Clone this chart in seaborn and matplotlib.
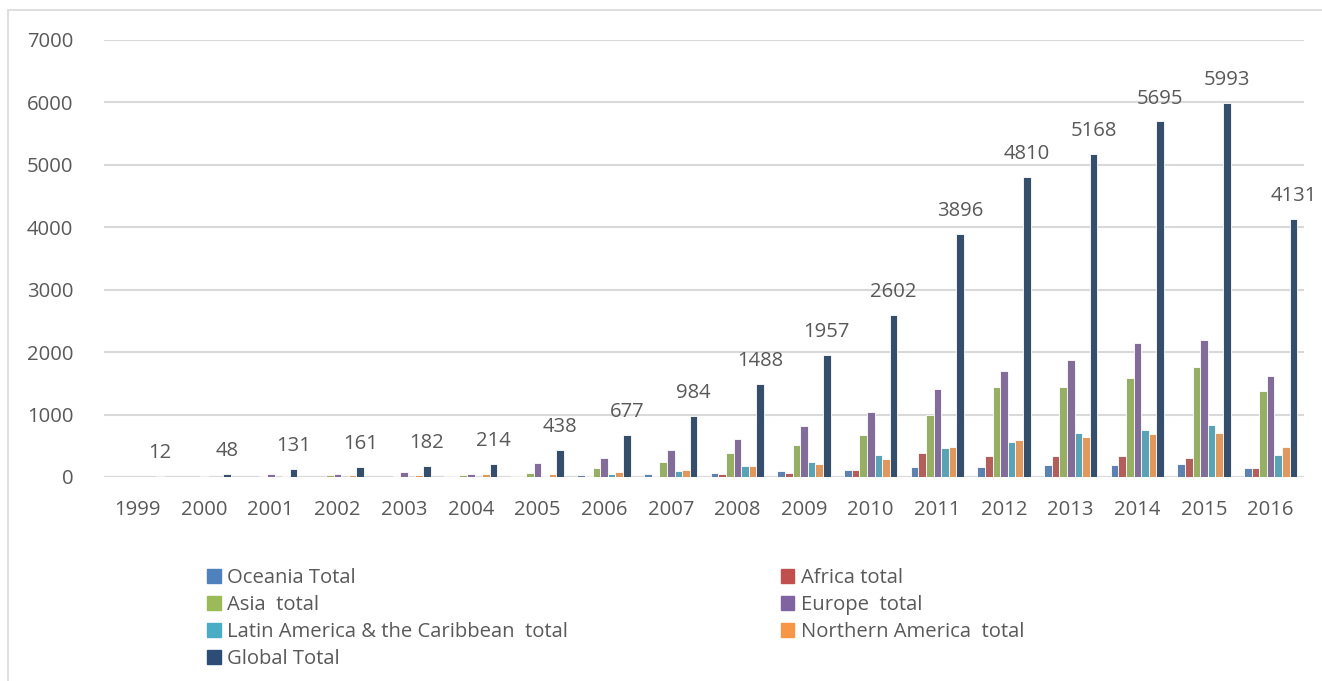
import pandas as pd
import matplotlib.pyplot as plt
import matplotlib.patches as mpatches
import seaborn as sns

# ─── Data ─────────────────────────────────────────────────────────────
YEARS = [str(y) for y in range(1999, 2017)]

oceania = [0, 3, 5, 5, 5, 10, 10, 27, 43, 70, 91, 113, 161, 167, 188, 188, 204, 140]
africa = [0, 3, 5, 5, 5, 10, 15, 21, 21, 54, 59, 108, 387, 333, 333, 333, 301, 145]
asia = [1, 5, 21, 27, 16, 37, 59, 145, 237, 387, 511, 667, 989, 1446, 1435, 1581, 1758, 1371]
europe = [5, 16, 53, 53, 75, 53, 222, 306, 435, 602, 817, 1048, 1409, 1704, 1866, 2151, 2188, 1624]
latin = [3, 3, 5, 5, 5, 5, 20, 54, 97, 172, 237, 349, 462, 554, 699, 753, 833, 349]
north_america = [3, 5, 21, 27, 27, 43, 40, 75, 113, 177, 210, 285, 473, 591, 634, 683, 699, 478]
global_total = [12, 48, 131, 161, 182, 214, 438, 677, 984, 1488, 1957, 2602, 3896, 4810, 5168, 5695, 5993, 4131]

SERIES = ["Oceania Total", "Africa total", "Asia  total", "Europe  total",
          "Latin America & the Caribbean  total", "Northern America  total", "Global Total"]
COLORS = ["#4F81BD", "#C0504D", "#9BBB59", "#8064A2", "#4BACC6", "#F79646", "#2C4D75"]

TEXT = "#595959"
GRID = "#D9D9D9"
FS = 14.6


def build_frame():
    values = [oceania, africa, asia, europe, latin, north_america, global_total]
    rows = []
    for name, vals in zip(SERIES, values):
        for yr, v in zip(YEARS, vals):
            rows.append({"year": yr, "series": name, "value": v})
    return pd.DataFrame(rows)


def main():
    sns.set_theme(style="white")
    plt.rcParams["font.family"] = ["Open Sans", "DejaVu Sans"]

    df = build_frame()
    fig = plt.figure(figsize=(13.22, 6.81), dpi=100)
    ax = fig.add_axes([0.0787, 0.2996, 0.9077, 0.6417])

    sns.barplot(data=df, x="year", y="value", hue="series", order=YEARS,
                hue_order=SERIES, palette=COLORS, width=0.8, ax=ax,
                edgecolor="white", linewidth=0.6, legend=False)

    ax.set_ylim(0, 7000)
    ax.set_xlim(-0.5, len(YEARS) - 0.5)
    ax.set_yticks(range(0, 7001, 1000))
    ax.yaxis.grid(True, color=GRID, linewidth=1.5)
    ax.set_axisbelow(True)
    for side in ["top", "right", "left", "bottom"]:
        ax.spines[side].set_visible(False)
    ax.axhline(0, color=GRID, linewidth=1.5, zorder=0.5)
    ax.set_xlabel("")
    ax.set_ylabel("")
    ax.tick_params(axis="y", length=0, pad=22, labelsize=FS, labelcolor=TEXT)
    ax.tick_params(axis="x", length=0, pad=16.5, labelsize=FS, labelcolor=TEXT)

    # value labels over the Global Total bars
    n = len(SERIES)
    bar_w = 0.8 / n
    offset = (n - 1) / 2 * bar_w
    for i, v in enumerate(global_total):
        ax.annotate(str(v), (i + offset, v), xytext=(0, 16.5), textcoords="offset points",
                    ha="center", va="center", fontsize=FS, color=TEXT)

    # legend, filled row-wise like the original (two columns)
    handles = {name: mpatches.Patch(color=c, label=name) for name, c in zip(SERIES, COLORS)}
    col_order = [SERIES[0], SERIES[2], SERIES[4], SERIES[6], SERIES[1], SERIES[3], SERIES[5]]
    fig.legend(handles=[handles[s] for s in col_order], loc="upper left",
               bbox_to_anchor=(0.1566, 0.1660), ncol=2, frameon=False,
               fontsize=FS, labelcolor=TEXT, handlelength=0.68, handleheight=0.68,
               handletextpad=0.3, labelspacing=0.35, columnspacing=10.5,
               borderaxespad=0, borderpad=0)

    # chart area frame
    fig.patches.append(mpatches.Rectangle((8 / 1322, -0.05), 1.1, 0.05 + 671 / 681,
                                          transform=fig.transFigure, fill=False,
                                          edgecolor=GRID, linewidth=1.2))

    fig.savefig("out.png", dpi=100)
    plt.close(fig)


if __name__ == "__main__":
    main()
